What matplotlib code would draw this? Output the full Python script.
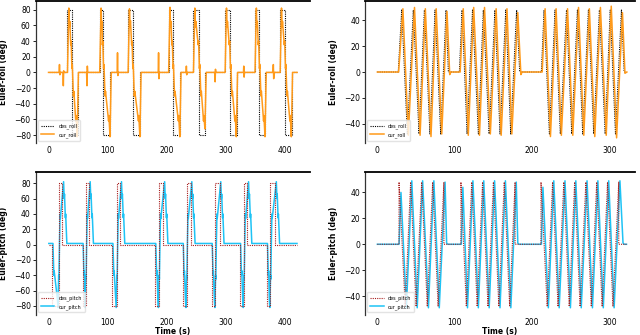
import matplotlib
matplotlib.use("Agg")
import matplotlib.pyplot as plt

# ---- left column: step manoeuvres (0-420 s) ----
# desired roll, step-post breakpoints
des_roll_l_t = [0, 32, 39, 49, 86.5, 92.5, 104.5, 134.5, 142, 155, 203, 210, 222.5,
                245, 254.5, 265, 298.5, 307, 318, 349, 356, 366.5, 391.5, 400, 411, 420]
des_roll_l_v = [0, 80, -80, 0, 80, -80, 0, 80, -80, 0, 80, -80, 0,
                80, -80, 0, 80, -80, 0, 80, -80, 0, 80, -80, 0, 0]

cur_roll_l_t = [0, 17.8, 18.5, 19.2, 19.8, 24.5, 25, 25.6, 26.2,
                32, 34.3, 35.3, 36, 37.5, 38.2, 39.5, 40.2, 42, 42.8, 46, 46.6, 48.4, 49.3, 50.5,
                64.3, 65, 65.6, 66.2,
                86.5, 88.8, 89.8, 90.5, 91, 91.7, 93, 93.7, 95.5, 96.3, 101.5, 102.1, 103.9, 104.8, 106,
                116, 116.6, 117.2, 117.8,
                134.5, 136.8, 137.8, 138.5, 140.5, 141.2, 142.5, 143.2, 145, 145.8, 152, 152.6, 154.4, 155.3, 156.5,
                185.4, 186, 186.6, 187.2,
                203, 205.3, 206.3, 207, 208.5, 209.2, 210.5, 211.2, 213, 213.8, 219.5, 220.1, 221.9, 222.8, 224,
                232.5, 233, 233.6, 234.2,
                245, 247.3, 248.3, 249, 253, 253.7, 255, 255.7, 257.5, 258.3, 262, 262.6, 264.4, 265.3, 266.5,
                281, 281.6, 282.2, 282.8,
                298.5, 300.8, 301.8, 302.5, 305.5, 306.2, 307.5, 308.2, 310, 310.8, 315, 315.6, 317.4, 318.3, 319.5,
                329.5, 330, 330.6, 331.2,
                349, 351.3, 352.3, 353, 354.5, 355.2, 356.5, 357.2, 359, 359.8, 363.5, 364.1, 365.9, 366.8, 368,
                379.4, 380, 380.6, 381.2,
                391.5, 393.8, 394.8, 395.5, 398.5, 399.2, 400.5, 401.2, 403, 403.8, 408, 408.6, 410.4, 411.3, 412.5,
                420]
cur_roll_l_v = [0, 0, 10, -3, 0, 0, -17, 2, 0,
                0, 82, 58, 65, 35, 40, 5, 10, -30, -24, -62, -55, -82, -45, 0,
                0, -17, 8, 0,
                0, 82, 58, 65, 35, 40, 5, 10, -30, -24, -62, -55, -82, -45, 0,
                0, 25, -4, 0,
                0, 81, 58, 66, 35, 40, 5, 10, -30, -24, -62, -55, -82, -45, 0,
                0, 25, -8, 0,
                0, 83, 58, 65, 35, 40, 5, 10, -30, -24, -62, -55, -82, -45, 0,
                0, 8, -3, 0,
                0, 82, 58, 65, 35, 40, 5, 10, -30, -24, -62, -55, -72, -40, 0,
                0, -12, 4, 0,
                0, 82, 58, 65, 35, 40, 5, 10, -30, -24, -62, -55, -82, -45, 0,
                0, 8, -6, 0,
                0, 82, 58, 65, 35, 40, 5, 10, -30, -24, -62, -55, -82, -45, 0,
                0, 10, -8, 0,
                0, 82, 58, 65, 35, 40, 5, 10, -30, -24, -62, -55, -82, -45, 0,
                0]

des_pitch_l_t = [0, 6, 16.5, 23, 57, 62.5, 68, 107.5, 115, 121, 180, 186.5, 194,
                 226.5, 233, 240, 275.5, 282, 289, 323.5, 330, 336, 369, 375, 383, 420]
des_pitch_l_v = [0, -80, 80, 0, -80, 80, 0, -80, 80, 0, -80, 80, 0,
                 -80, 80, 0, -80, 80, 0, -80, 80, 0, -80, 80, 0, 0]

cur_pitch_l_t = [0, 7, 8.5, 9, 14.7, 15.5, 16.7, 17.1, 18, 19, 19.5, 25, 26, 26.5, 28, 28.5, 30.5,
                 58, 59.5, 60, 60.7, 61.5, 62.7, 63.1, 64, 65, 65.5, 70, 71, 71.5, 73, 73.5, 75.5,
                 108.5, 110, 110.5, 113.2, 114, 115.2, 115.6, 116.5, 117.5, 118, 123, 124, 124.5, 126, 126.5, 128.5,
                 181, 182.5, 183, 184.7, 185.5, 186.7, 187.1, 188, 189, 189.5, 196, 197, 197.5, 199, 199.5, 201.5,
                 227.5, 229, 229.5, 231.2, 232, 233.2, 233.6, 234.5, 235.5, 236, 242, 243, 243.5, 245, 245.5, 247.5,
                 276.5, 278, 278.5, 280.2, 281, 282.2, 282.6, 283.5, 284.5, 285, 291, 292, 292.5, 294, 294.5, 296.5,
                 324.5, 326, 326.5, 328.2, 329, 330.2, 330.6, 331.5, 332.5, 333, 338, 339, 339.5, 341, 341.5, 343.5,
                 370, 371.5, 372, 373.2, 374, 375.2, 375.6, 376.5, 377.5, 378, 385, 386, 386.5, 388, 388.5, 390.5,
                 420]
cur_pitch_l_v = [1.5, 1.5, -40, -34, -72, -82, -40, -45, 0, 40, 34, 82, 60, 66, 35, 40, 1.5,
                 1.5, -40, -34, -72, -82, -40, -45, 0, 40, 34, 82, 60, 66, 35, 40, 1.5,
                 1.5, -40, -34, -72, -82, -40, -45, 0, 40, 34, 82, 60, 66, 35, 40, 1.5,
                 1.5, -40, -34, -72, -82, -40, -45, 0, 40, 34, 82, 60, 66, 35, 40, 1.5,
                 1.5, -40, -34, -72, -82, -40, -45, 0, 40, 34, 82, 60, 66, 35, 40, 1.5,
                 1.5, -40, -34, -72, -82, -40, -45, 0, 40, 34, 82, 60, 66, 35, 40, 1.5,
                 1.5, -40, -34, -72, -82, -40, -45, 0, 40, 34, 82, 60, 66, 35, 40, 1.5,
                 1.5, -40, -34, -72, -82, -40, -45, 0, 40, 34, 82, 60, 66, 35, 40, 1.5,
                 1.5]

# ---- right column: oscillating manoeuvres (0-322 s) ----
des_roll_r_t = [0, 27, 31.5, 38.8, 46.5, 53.9, 60.8, 68, 74.6, 81.9, 88.8, 91.8,
                106, 109.5, 116, 123, 130.6, 137, 144.5, 152, 158.6, 166, 172.4, 180, 184,
                212, 215.5, 222.4, 229.7, 236.5, 244.5, 251.3, 258.6, 265.5, 272.8, 279.7,
                287, 294.5, 301, 307.8, 315.5, 319, 322]
des_roll_r_v = [0, 0, 48, -48, 48, -48, 48, -48, 48, -48, 48, 0,
                0, 48, -48, 48, -48, 48, -48, 48, -48, 48, -48, 48, 0,
                0, 48, -48, 48, -48, 48, -48, 48, -48, 48, -48,
                48, -48, 48, -48, 48, 0, 0]

cur_roll_r_t = [0, 27.5, 33, 40, 48, 55.2, 62, 69.3, 76, 83.2, 90, 93.5, 95,
                107, 111, 117.5, 124.5, 132, 138.5, 146, 153.5, 160, 167.5, 173.8, 181.5, 185.5, 187,
                213, 216.8, 223.7, 231, 237.8, 245.8, 252.6, 260, 266.8, 274, 281,
                288.3, 295.8, 302.3, 309.2, 316.8, 320, 322.5]
cur_roll_r_v = [0, 0, 49, -49, 50, -49, 49, -50, 49, -48, 47, -2, 0,
                0, 49, -49, 50, -49, 50, -48, 49, -49, 49, -48, 46, -2, 0,
                0, 49, -50, 49, -49, 49, -49, 50, -49, 49, -50,
                50, -49, 51, -51, 46, -1, 0]

des_pitch_r_t = [0, 28, 28, 36, 43, 50, 57.3, 64.5, 71.5, 78.5, 86, 86, 108,
                 108, 115, 122, 129, 136, 143, 150, 157, 164, 171, 178, 178, 211.5,
                 211.5, 219.5, 226.5, 233.5, 241, 248, 255, 262, 269.5, 276.5,
                 283.5, 290.5, 297.5, 304.5, 312, 312, 322]
des_pitch_r_v = [0, 0, 48, -48, 48, -48, 48, -48, 48, -48, 48, 0, 0,
                 48, -48, 48, -48, 48, -48, 48, -48, 48, -48, 48, 0, 0,
                 48, -48, 48, -48, 48, -48, 48, -48, 48, -48,
                 48, -48, 48, -48, 48, 0, 0]

cur_pitch_r_t = [0, 28, 30.5, 37.5, 44.5, 51.5, 58.5, 66, 73, 80, 87.5, 89.5, 91,
                 108.5, 110.5, 116.5, 123.5, 130.5, 137.5, 144.5, 151.5, 158.5, 165.5, 172.5, 179.5, 181.5, 183,
                 212, 214, 221, 228, 235, 242.5, 249.5, 256.5, 263.5, 271, 278,
                 285, 292, 299, 306, 313.5, 317.5, 319, 322]
cur_pitch_r_v = [0, 0, 40, -49, 49, -49, 49, -49, 49, -49, 48, 1, 0,
                 0, 44, -49, 49, -49, 49, -49, 49, -49, 49, -49, 48, 1, 0,
                 0, 44, -49, 49, -49, 49, -49, 49, -49, 49, -49,
                 49, -49, 49, -49, 49, 1, 0, 0]

ORANGE = "#ff9a1a"
CYAN = "#1ec3f5"
DRED = "#a81c1c"
dots = (0, (1, 1))

fig = plt.figure(figsize=(6.4, 3.35), dpi=100)
ax_tl = fig.add_axes([0.0555, 0.5731, 0.4289, 0.4239])
ax_tr = fig.add_axes([0.5703, 0.5731, 0.4219, 0.4239])
ax_bl = fig.add_axes([0.0555, 0.0600, 0.4289, 0.4274])
ax_br = fig.add_axes([0.5703, 0.0600, 0.4219, 0.4274])

ax_tl.plot(des_roll_l_t, des_roll_l_v, color="k", ls=dots, lw=0.8, drawstyle="steps-post", label="des_roll")
ax_tl.plot(cur_roll_l_t, cur_roll_l_v, color=ORANGE, lw=1.1, label="cur_roll")

ax_tr.plot(des_roll_r_t, des_roll_r_v, color="k", ls=dots, lw=0.8, label="des_roll")
ax_tr.plot(cur_roll_r_t, cur_roll_r_v, color=ORANGE, lw=1.1, label="cur_roll")

ax_bl.plot(des_pitch_l_t, des_pitch_l_v, color=DRED, ls=dots, lw=0.8, drawstyle="steps-post",
           label="des_pitch", zorder=3)
ax_bl.plot(cur_pitch_l_t, cur_pitch_l_v, color=CYAN, lw=1.1, label="cur_pitch", zorder=2)

ax_br.plot(des_pitch_r_t, des_pitch_r_v, color=DRED, ls=dots, lw=0.8, label="des_pitch", zorder=3)
ax_br.plot(cur_pitch_r_t, cur_pitch_r_v, color=CYAN, lw=1.1, label="cur_pitch", zorder=2)

ax_tl.set_xlim(-22, 442)
ax_bl.set_xlim(-22.5, 442)
ax_tr.set_xlim(-16, 333)
ax_br.set_xlim(-16, 333)
ax_tl.set_ylim(-90, 91)
ax_bl.set_ylim(-91.6, 95)
ax_tr.set_ylim(-55, 55)
ax_br.set_ylim(-54.5, 56)

for ax in (ax_tl, ax_bl):
    ax.set_xticks([0, 100, 200, 300, 400])
    ax.set_yticks(range(-80, 81, 20))
for ax in (ax_tr, ax_br):
    ax.set_xticks([0, 100, 200, 300])
    ax.set_yticks([-40, -20, 0, 20, 40])

for ax in (ax_tl, ax_tr, ax_bl, ax_br):
    ax.spines["right"].set_visible(False)
    ax.spines["bottom"].set_visible(False)
    ax.spines["top"].set_linewidth(1.3)
    ax.spines["left"].set_linewidth(0.9)
    ax.spines["left"].set_color("#333333")
    ax.tick_params(axis="x", length=0, labelsize=5.5, pad=2)
    ax.tick_params(axis="y", length=2, width=0.6, labelsize=5.5, pad=1.5)
    ax.legend(loc="lower left", fontsize=3.5, handlelength=2.8, borderpad=0.6,
              labelspacing=0.6, framealpha=0.8, edgecolor="#dddddd", fancybox=True)

ax_tl.set_ylabel("Euler-roll (deg)", fontsize=5.5, fontweight="bold")
ax_tr.set_ylabel("Euler-roll (deg)", fontsize=5.5, fontweight="bold")
ax_bl.set_ylabel("Euler-pitch (deg)", fontsize=5.5, fontweight="bold")
ax_br.set_ylabel("Euler-pitch (deg)", fontsize=5.5, fontweight="bold")
for ax in (ax_tl, ax_bl):
    ax.yaxis.set_label_coords(-0.1, 0.5)
for ax in (ax_tr, ax_br):
    ax.yaxis.set_label_coords(-0.1, 0.5)
ax_bl.set_xlabel("Time (s)", fontsize=5.5, fontweight="bold", labelpad=0)
ax_br.set_xlabel("Time (s)", fontsize=5.5, fontweight="bold", labelpad=0)

fig.savefig("out.png", dpi=100)
